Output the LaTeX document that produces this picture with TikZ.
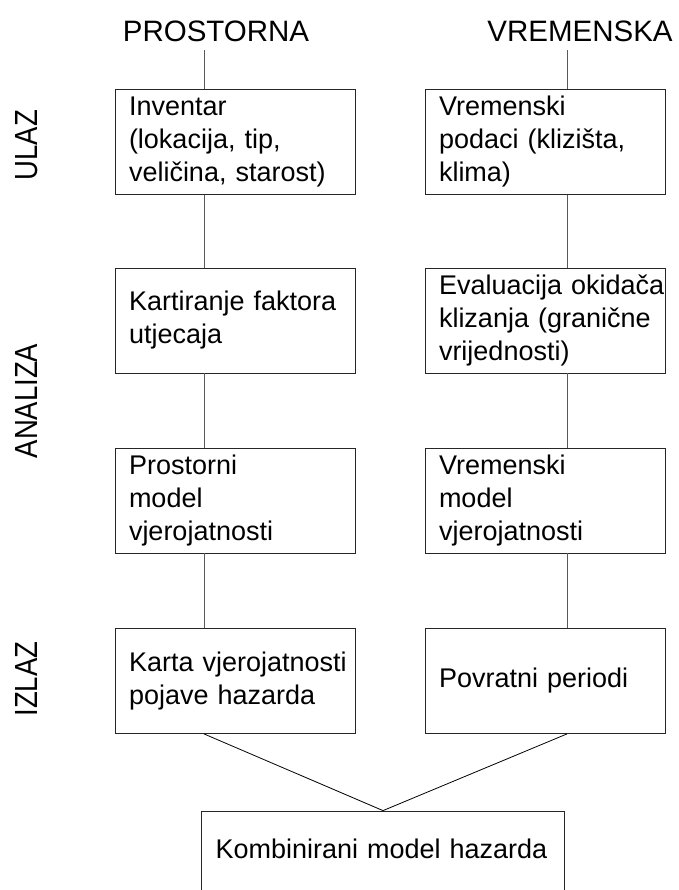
\documentclass[tikz,border=0pt]{standalone}
\usepackage{fontspec}
\setmainfont{Liberation Sans}
\newfontfamily\fazafont[FakeStretch=0.86]{Liberation Sans}
\hyphenpenalty=10000
\exhyphenpenalty=10000

\begin{document}
\begin{tikzpicture}[x=1pt,y=-1pt,
    kutija/.style={rectangle, draw=black!85, line width=0.8pt,
      minimum width=240pt, minimum height=105pt, text width=212pt,
      inner xsep=14pt, inner ysep=0pt, align=left,
      font=\fontsize{27}{33}\selectfont},
    naslov/.style={anchor=base, inner ysep=8pt, font=\fontsize{29.5}{35}\selectfont},
    faza/.style={rotate=90, font=\fazafont\fontsize{32}{36}\selectfont},
    veza/.style={draw=black!65, line width=0.8pt}]
   \useasboundingbox (0,0) rectangle (678,890);
   \coordinate (lx) at (204,0);
   \coordinate (dx) at (567,0);
   \node[naslov] (pros) at (216,42) {PROSTORNA};
   \node[naslov] (vrem) at (580,42) {VREMENSKA};
   \node[faza] (ulaz) at (26.5,145) {ULAZ};
   \node[faza] (anal) at (26.5,401) {ANALIZA};
   \node[faza] (izl) at (26.5,679) {IZLAZ};
   \node[kutija] (inv) at (235,142) {Inventar\\(lokacija,~tip,\\veličina,~starost)};
   \node[kutija] (vpod) at (545,142) {Vremenski\\podaci~(klizišta,\\klima)};
   \node[kutija] (kart) at (235,320.5) {Kartiranje~faktora\\utjecaja};
   \node[kutija] (eval) at (545,320.5) {Evaluacija~okidača\\klizanja~(granične\\vrijednosti)};
   \node[kutija] (pmod) at (235,500.5) {Prostorni\\model\\vjerojatnosti};
   \node[kutija] (vmod) at (545,500.5) {Vremenski\\model\\vjerojatnosti};
   \node[kutija] (karta) at (235,681) {Karta~vjerojatnosti\\pojave~hazarda};
   \node[kutija] (povr) at (545,681) {Povratni~periodi};
   \node[kutija, minimum width=363pt, text width=335pt, text depth=29pt] (komb) at (383,863.5) {Kombinirani model hazarda};
   \foreach \a/\b in {pros/inv, inv/kart, kart/pmod, pmod/karta}
      \draw[veza] (\a.south -| lx) -- (\b.north -| lx);
   \foreach \a/\b in {vrem/vpod, vpod/eval, eval/vmod, vmod/povr}
      \draw[veza] (\a.south -| dx) -- (\b.north -| dx);
   \draw[line width=0.8pt] (karta.south -| lx) -- (komb.north) -- (povr.south -| dx);
 \end{tikzpicture}
\end{document}
